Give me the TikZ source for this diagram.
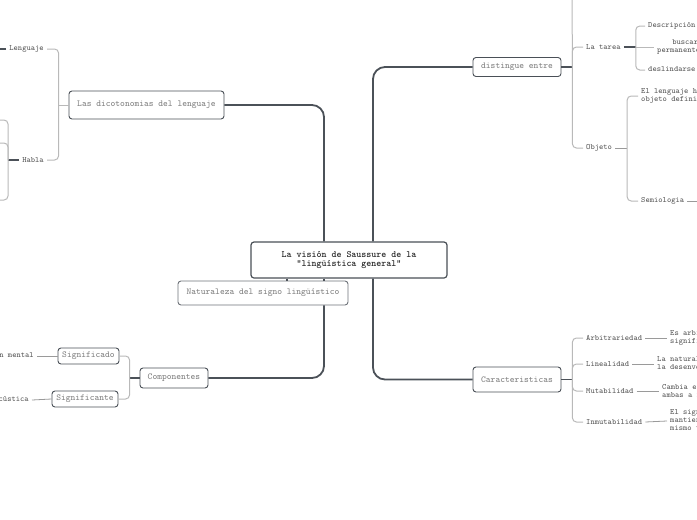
\documentclass[tikz,border=0pt]{standalone}
\usepackage{fontspec}
\definecolor{boxc}{HTML}{4A5057}
\definecolor{boxtext}{HTML}{7E7E7E}
\definecolor{leaftext}{HTML}{555555}
\definecolor{trunkc}{HTML}{4B5158}
\definecolor{bracec}{HTML}{B9B9B9}
\definecolor{twigc}{HTML}{9A9A9A}
\begin{document}
\begin{tikzpicture}[x=1pt,y=-1pt,
  box/.style={draw=boxc, line width=0.9pt, rounded corners=3pt, fill=white, text=boxtext, font=\ttfamily\fontsize{9.1}{10}\selectfont, inner sep=0pt},
  leaf/.style={font=\ttfamily\fontsize{8.1}{8.2}\selectfont, text=leaftext, inner xsep=3pt, inner ysep=1pt},
  trunk/.style={draw=trunkc, line width=1.8pt, rounded corners=12pt},
  stem/.style={draw=trunkc, line width=1.4pt},
  brace/.style={draw=bracec, line width=1pt, rounded corners=4pt},
  twig/.style={draw=twigc, line width=0.8pt},
]
\useasboundingbox (0,0) rectangle (697,520);
\clip (0,0) rectangle (697,520);

% main boxes
\node[box, minimum width=196pt, minimum height=36pt, text=black!85, line width=1.2pt,
      font=\ttfamily\bfseries\fontsize{9.5}{9.5}\selectfont, align=center] (central) at (349,260)
  {La visión de Saussure de la\\"lingüística general"};
\node[box, minimum width=155pt, minimum height=28pt] (dic) at (146.5,105) {Las dicotonomias del lenguaje};
\node[box, minimum width=170pt, minimum height=24pt, draw=boxc!80] (nat) at (263,293) {Naturaleza del signo lingüístico};
\node[box, minimum width=88pt, minimum height=19pt] (dist) at (517,67) {distingue entre};
\node[box, minimum width=88pt, minimum height=25pt] (car) at (517,379.5) {Caracteristicas};
\node[box, minimum width=68pt, minimum height=20pt] (comp) at (174,378) {Componentes};
\node[box, minimum width=61pt, minimum height=16pt] (sdo) at (88.5,356) {Significado};
\node[box, minimum width=66pt, minimum height=16pt] (ste) at (85,399) {Significante};

% trunk connectors
\draw[trunk] ([xshift=-25pt]central.north) |- (dic.east);
\draw[trunk] ([xshift=24pt]central.north) |- (dist.west);
\draw[trunk] ([xshift=24pt]central.south) |- (car.west);
\draw[trunk] ([xshift=-62pt]central.south) -- ([xshift=24pt]nat.north);
\draw[trunk] ([xshift=-25pt]central.south) -- ([xshift=61pt]nat.north);
\draw[trunk] ([xshift=61pt]nat.south) |- (comp.east);

% Componentes
\draw[stem] (comp.west) -- ++(-10,0) coordinate (cb);
\draw[brace] (cb) |- (sdo.east);
\draw[brace] (cb) |- (ste.east);
\node[leaf, anchor=east] (mental) at (37,356) {Concepto o imagen mental};
\node[leaf, anchor=east] (acust) at (32,400) {Imagen acústica};
\draw[twig] (mental.east) -- (sdo.west);
\draw[twig] (acust.east) -- (ste.west);

% Dicotonomias
\draw[brace] (dic.west) -- ++(-10,0) coordinate (db);
\node[leaf, anchor=east] (leng) at (47,49) {Lenguaje};
\node[leaf, anchor=east] (habla) at (47,160) {Habla};
\draw[brace] (db) |- (leng.east);
\draw[brace] (db) |- (habla.east);
\coordinate (lw) at (-2,49);
\draw[stem] (leng.west) -- (lw);
\coordinate (hb) at (8,160);
\draw[stem] (habla.west) -- (hb);
\coordinate (h1) at (-2,120);
\coordinate (h2) at (-2,143);
\coordinate (h3) at (-2,200);
\draw[brace] (hb) |- (h1);
\draw[brace] (hb) |- (h2);
\draw[brace] (hb) |- (h3);

% distingue entre
\draw[stem] (dist.east) -- ++(11,0) coordinate (rb);
\coordinate (rtop) at (572,-5);
\draw[brace] (rb) -- (rtop);
\node[leaf, anchor=west] (tarea) at (583,47) {La tarea};
\node[leaf, anchor=west] (objeto) at (583,148) {Objeto};
\draw[brace] (rb) |- (tarea.west);
\draw[brace] (rb) |- (objeto.west);

\draw[stem] (tarea.east) -- ++(12,0) coordinate (tb);
\node[leaf, anchor=west] (desc) at (645,26) {Descripción de las lenguas};
\node[leaf, anchor=west, align=center] (buscar) at (654,47) {buscar las fuerzas\\permanentes y universales};
\node[leaf, anchor=west] (desl) at (645,70) {deslindarse y definirse};
\draw[brace] (tb) |- (desc.west);
\draw[brace] (tb) -- (buscar.west);
\draw[brace] (tb) |- (desl.west);

\draw[twig] (objeto.east) -- ++(12,0) coordinate (ob);
\node[leaf, anchor=west, align=left] (lhum) at (638,96) {El lenguaje humano como\\objeto definido};
\node[leaf, anchor=west] (semi) at (638,201) {Semiologia};
\draw[brace] (ob) |- (lhum.west);
\draw[brace] (ob) |- (semi.west);
\coordinate (sr) at (700,201);
\draw[twig] (semi.east) -- (sr);

% Caracteristicas
\draw[stem] (car.east) -- ++(11,0) coordinate (kb);
\node[leaf, anchor=west] (arb) at (583,338) {Arbitrariedad};
\node[leaf, anchor=west] (lin) at (583,364) {Linealidad};
\node[leaf, anchor=west] (mut) at (583,391) {Mutabilidad};
\node[leaf, anchor=west] (inm) at (583,422) {Inmutabilidad};
\draw[brace] (kb) |- (arb.west);
\draw[brace] (kb) |- (lin.west);
\draw[brace] (kb) |- (mut.west);
\draw[brace] (kb) |- (inm.west);

\node[leaf, anchor=west, align=left] (arbx) at (667,338) {Es arbitraria la unión del\\significante y el significado};
\node[leaf, anchor=west, align=left] (linx) at (654,364) {La naturaleza del significante\\la desenvolverse en el tiempo};
\node[leaf, anchor=west, align=left] (mutx) at (659,391) {Cambia el signo, afecta\\ambas a favor del cambio};
\node[leaf, anchor=west, align=left] (inmx) at (667,421) {El signo se\\mantiene en el\\mismo tiempo};
\draw[twig] (arb.east) -- (arbx.west);
\draw[twig] (lin.east) -- (linx.west);
\draw[twig] (mut.east) -- (mutx.west);
\draw[twig] (inm.east) -- (inmx.west);
\end{tikzpicture}
\end{document}
